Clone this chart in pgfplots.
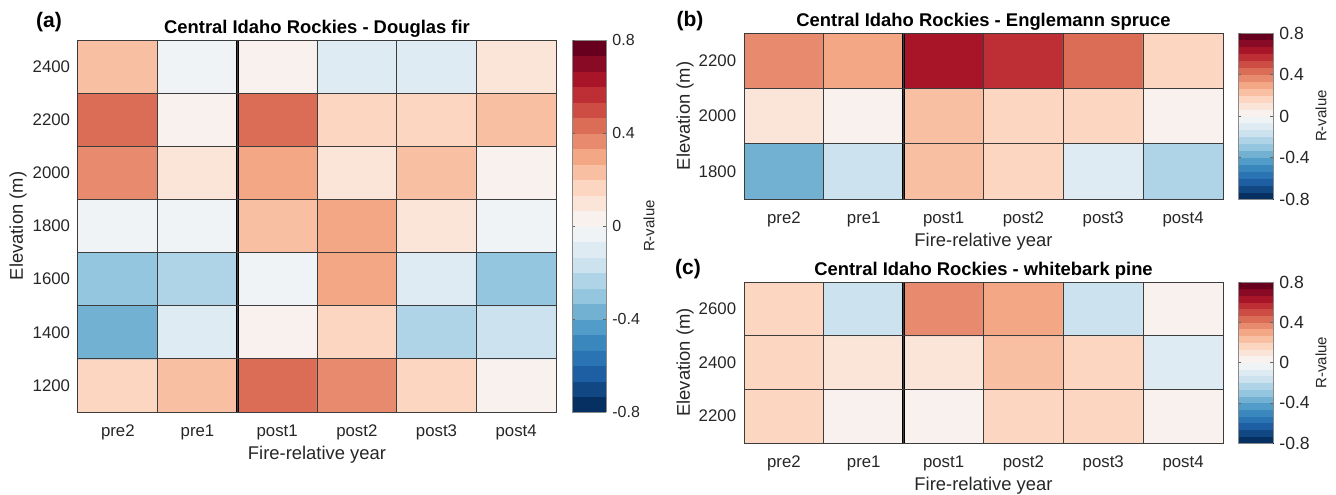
\documentclass[border=0pt]{standalone}
\usepackage{pgfplots}
\pgfplotsset{compat=1.18}
\usepackage{fontspec}
\setmainfont{Liberation Sans}
\definecolor{txt}{RGB}{38,38,38}
\definecolor{edge}{RGB}{60,60,60}
\pgfplotsset{
  colormap={rdbu24}{
    rgb255=(5,48,97) rgb255=(17,71,130) rgb255=(29,95,162) rgb255=(43,116,179)
    rgb255=(58,135,189) rgb255=(81,156,200) rgb255=(115,177,211) rgb255=(149,198,223)
    rgb255=(176,212,231) rgb255=(204,226,238) rgb255=(222,235,242) rgb255=(239,243,245)
    rgb255=(248,241,237) rgb255=(251,229,216) rgb255=(252,214,193) rgb255=(248,191,163)
    rgb255=(244,167,133) rgb255=(232,138,109) rgb255=(219,108,86) rgb255=(205,77,68)
    rgb255=(189,46,53) rgb255=(168,21,41) rgb255=(136,10,36) rgb255=(103,0,31)},
  hm/.style={
    scale only axis, anchor=north west,
    colormap name=rdbu24, colormap access=piecewise constant,
    point meta min=-0.8, point meta max=0.8,
    xmin=-0.5, xmax=5.5,
    xtick={0,...,5}, xticklabels={pre2,pre1,post1,post2,post3,post4},
    minor xtick={0.5,1.5,2.5,3.5,4.5},
    xminorgrids=true, yminorgrids=true,
    minor grid style={edge, line width=0.5pt},
    major tick length=0pt, minor tick length=0pt,
    axis on top,
    axis line style={edge, line width=0.5pt},
    /pgf/number format/1000 sep={},
    /pgf/number format/assume math mode=true,
    xticklabel style={txt, font=\fontsize{8.4}{10}\selectfont, anchor=center, inner sep=0pt, yshift=-10pt},
    yticklabel style={txt, font=\fontsize{8.4}{10}\selectfont, anchor=east, inner sep=0pt, xshift=-3.75pt},
    every axis title/.style={at={(axis description cs:0.5,1)}, anchor=center, yshift=5.5pt, font=\bfseries\fontsize{9.2}{11}\selectfont, black},
    every axis x label/.style={at={(axis description cs:0.5,0)}, anchor=center, yshift=-21.5pt, font=\fontsize{9.2}{11}\selectfont, txt},
    every axis y label/.style={at={(axis description cs:0,0.5)}, anchor=center, rotate=90, xshift=0pt, font=\fontsize{9.2}{11}\selectfont, txt},
    xlabel={Fire-relative year}, ylabel={Elevation (m)},
    colorbar,
    colorbar shift/.style={xshift=8pt},
  },
  cb/.style n args={4}{
    colorbar style={
      at={(parent axis.north east)}, anchor=north west,
      width=#1,
      ytick={-0.8,-0.4,0,0.4,0.8},
      yticklabels={-0.8,-0.4,0,0.4,0.8},
      minor ytick={}, minor xtick={},
      xminorgrids=false, yminorgrids=false,
      major tick length=1.5pt, tick align=inside,
      ytick style={edge!80},
      axis line style={edge!60},
      yticklabel style={txt, font=\fontsize{#2}{10}\selectfont, anchor=west, inner sep=0pt, xshift=3pt},
      every axis y label/.style={at={(axis description cs:1,0.5)}, anchor=center, rotate=90, xshift=0pt, font=\fontsize{7.5}{9}\selectfont, txt},
      ylabel={R-value},
      ylabel style={yshift=-#3},
    },
    colorbar shift/.style={xshift=#4},
  },
}
\begin{document}
\begin{tikzpicture}
\path[use as bounding box] (0pt,0pt) rectangle (668pt,-247pt);

% (a) Douglas fir
\begin{axis}[hm, at={(39pt,-20pt)}, width=239pt, height=186pt,
  ymin=1100, ymax=2500, ytick={1200,1400,...,2400}, minor ytick={1300,1500,...,2300},
  title={Central Idaho Rockies - Douglas fir},
  ylabel style={yshift=30pt},
  cb={17pt}{8}{21.5pt}{8pt}]
\addplot[matrix plot*, mesh/cols=6, point meta=explicit] table[meta=c] {
x y c
0 1200 0.17
1 1200 0.23
2 1200 0.43
3 1200 0.37
4 1200 0.17
5 1200 0.03
0 1400 -0.37
1 1400 -0.10
2 1400 0.03
3 1400 0.17
4 1400 -0.23
5 1400 -0.17
0 1600 -0.30
1 1600 -0.23
2 1600 -0.03
3 1600 0.30
4 1600 -0.10
5 1600 -0.30
0 1800 -0.03
1 1800 -0.03
2 1800 0.23
3 1800 0.30
4 1800 0.10
5 1800 -0.03
0 2000 0.37
1 2000 0.10
2 2000 0.30
3 2000 0.10
4 2000 0.23
5 2000 0.03
0 2200 0.43
1 2200 0.03
2 2200 0.43
3 2200 0.17
4 2200 0.17
5 2200 0.23
0 2400 0.23
1 2400 -0.03
2 2400 0.03
3 2400 -0.10
4 2400 -0.10
5 2400 0.10
};
\addplot[black, line width=1.5pt] coordinates {(1.5,1100) (1.5,2500)};
\end{axis}

% (b) Englemann spruce
\begin{axis}[hm, at={(372pt,-16.5pt)}, width=239.5pt, height=83pt,
  ymin=1700, ymax=2300, ytick={1800,2000,2200}, minor ytick={1900,2100},
  title={Central Idaho Rockies - Englemann spruce},
  ylabel style={yshift=29.5pt},
  cb={17.5pt}{8.8}{24pt}{7.5pt}]
\addplot[matrix plot*, mesh/cols=6, point meta=explicit] table[meta=c] {
x y c
0 1800 -0.37
1 1800 -0.17
2 1800 0.23
3 1800 0.17
4 1800 -0.10
5 1800 -0.23
0 2000 0.10
1 2000 0.03
2 2000 0.23
3 2000 0.17
4 2000 0.17
5 2000 0.03
0 2200 0.37
1 2200 0.30
2 2200 0.63
3 2200 0.55
4 2200 0.43
5 2200 0.17
};
\addplot[black, line width=1.5pt] coordinates {(1.5,1700) (1.5,2300)};
\end{axis}

% (c) whitebark pine
\begin{axis}[hm, at={(372pt,-141pt)}, width=239.5pt, height=80.5pt,
  ymin=2100, ymax=2700, ytick={2200,2400,2600}, minor ytick={2300,2500},
  title={Central Idaho Rockies - whitebark pine},
  ylabel style={yshift=29.5pt},
  cb={17.5pt}{8.8}{24pt}{7.5pt}]
\addplot[matrix plot*, mesh/cols=6, point meta=explicit] table[meta=c] {
x y c
0 2200 0.17
1 2200 0.03
2 2200 0.03
3 2200 0.17
4 2200 0.17
5 2200 0.03
0 2400 0.17
1 2400 0.10
2 2400 0.10
3 2400 0.23
4 2400 0.17
5 2400 -0.10
0 2600 0.17
1 2600 -0.17
2 2600 0.37
3 2600 0.30
4 2600 -0.17
5 2600 0.03
};
\addplot[black, line width=1.5pt] coordinates {(1.5,2100) (1.5,2700)};
\end{axis}

\node[font=\bfseries\fontsize{10.5}{12}\selectfont, black] at (24.5pt,-11pt) {(a)};
\node[font=\bfseries\fontsize{10.5}{12}\selectfont, black] at (345pt,-10.75pt) {(b)};
\node[font=\bfseries\fontsize{10.5}{12}\selectfont, black] at (344pt,-134.5pt) {(c)};
\end{tikzpicture}
\end{document}
